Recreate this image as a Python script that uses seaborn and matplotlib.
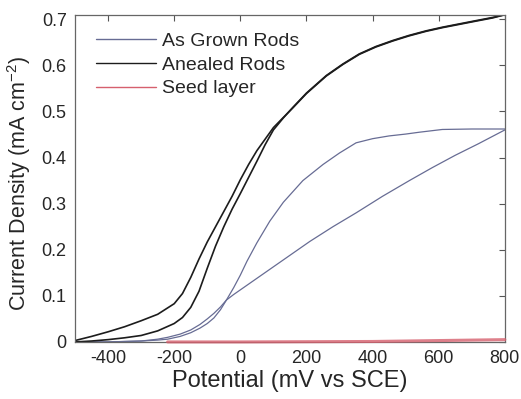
import matplotlib
matplotlib.use("Agg")
import matplotlib.pyplot as plt
import seaborn as sns

# Annealed rods: forward scan (lower-right branch) and reverse scan (upper-left branch)
annealed_fwd_x = [-500, -450, -400, -350, -300, -250, -200, -175, -150, -125, -100, -75,
                  -50, -25, 0, 25, 50, 75, 100, 130, 159, 200, 260, 310, 360, 410, 461,
                  510, 562, 612, 662, 712, 763, 800]
annealed_fwd_y = [0.0, 0.002, 0.005, 0.009, 0.014, 0.024, 0.040, 0.053, 0.075, 0.11,
                  0.16, 0.208, 0.25, 0.288, 0.322, 0.357, 0.392, 0.428, 0.46, 0.486,
                  0.509, 0.54, 0.578, 0.603, 0.625, 0.641, 0.654, 0.665, 0.675, 0.683,
                  0.69, 0.697, 0.704, 0.71]
annealed_rev_x = [800, 763, 712, 662, 612, 562, 510, 461, 410, 360, 310, 260, 200, 159,
                  130, 100, 75, 50, 25, 0, -25, -50, -75, -100, -125, -150, -175, -200,
                  -250, -300, -350, -400, -450, -500]
annealed_rev_y = [0.71, 0.703, 0.696, 0.689, 0.682, 0.674, 0.664, 0.653, 0.64, 0.624,
                  0.602, 0.577, 0.539, 0.508, 0.487, 0.465, 0.44, 0.415, 0.385, 0.352,
                  0.316, 0.283, 0.25, 0.217, 0.18, 0.14, 0.105, 0.083, 0.06, 0.046,
                  0.033, 0.022, 0.012, 0.003]

# As grown rods: near-linear branch and steep branch with plateau
grown_fwd_x = [-500, -400, -300, -250, -220, -182, -150, -122, -100, -80, -60, -42, -20,
               0, 68, 140, 210, 280, 350, 430, 511, 580, 650, 720, 800]
grown_fwd_y = [0.0, 0.0, 0.002, 0.006, 0.01, 0.017, 0.026, 0.038, 0.05, 0.062, 0.076,
               0.091, 0.103, 0.113, 0.147, 0.183, 0.218, 0.25, 0.28, 0.316, 0.35, 0.378,
               0.405, 0.43, 0.46]
grown_rev_x = [800, 700, 611, 541, 500, 450, 400, 350, 300, 250, 189, 130, 89, 50, 20, 0,
               -20, -42, -60, -80, -100, -122, -150, -182, -220, -250, -300, -400, -500]
grown_rev_y = [0.462, 0.462, 0.461, 0.455, 0.451, 0.447, 0.441, 0.432, 0.41, 0.385, 0.35,
               0.303, 0.262, 0.215, 0.175, 0.145, 0.118, 0.091, 0.07, 0.052, 0.04, 0.03,
               0.02, 0.012, 0.006, 0.004, 0.002, 0.0, 0.0]

# Seed layer
seed_x = [-220, 0, 200, 400, 500, 600, 700, 800]
seed_y = [0.0, 0.0, 0.0005, 0.001, 0.002, 0.003, 0.004, 0.005]

x_ticks = [-400, -200, 0, 200, 400, 600, 800]
y_ticks = [0, 0.1, 0.2, 0.3, 0.4, 0.5, 0.6, 0.7]
y_tick_labels = ["0", "0.1", "0.2", "0.3", "0.4", "0.5", "0.6", "0.7"]

sns.set_style("white")
plt.rcParams["font.family"] = ["Liberation Sans", "DejaVu Sans"]
plt.rcParams["mathtext.fontset"] = "custom"
plt.rcParams["mathtext.rm"] = "Liberation Sans"
plt.rcParams["axes.unicode_minus"] = False

blue = "#676c94"
black = "#1c1c1c"
red = "#d6606e"

fig = plt.figure(figsize=(5.21, 3.99), dpi=100)
ax = fig.add_axes([0.144, 0.143, 0.825, 0.819])

sns.lineplot(x=grown_fwd_x, y=grown_fwd_y, sort=False, color=blue, lw=0.9,
             label="As Grown Rods", ax=ax)
sns.lineplot(x=grown_rev_x, y=grown_rev_y, sort=False, color=blue, lw=0.9,
             label="_nolegend_", ax=ax)
sns.lineplot(x=annealed_fwd_x, y=annealed_fwd_y, sort=False, color=black, lw=1.2,
             label="Anealed Rods", ax=ax)
sns.lineplot(x=annealed_rev_x, y=annealed_rev_y, sort=False, color=black, lw=1.2,
             label="_nolegend_", ax=ax)
sns.lineplot(x=seed_x, y=seed_y, sort=False, color=red, lw=2.2, alpha=0.8,
             label="Seed layer", ax=ax, clip_on=False, zorder=5)

ax.set_xlim(-500, 800)
ax.set_ylim(0, 0.709)
ax.set_xticks(x_ticks)
ax.set_yticks(y_ticks)
ax.set_yticklabels(y_tick_labels)
ax.tick_params(direction="in", length=4, width=0.8, color="#555555",
               top=True, right=True, labelsize=13, pad=6)
for s in ax.spines.values():
    s.set_color("#666666")
    s.set_linewidth(0.9)

ax.set_xlabel("Potential (mV vs SCE)", fontsize=17, labelpad=2)
ax.set_ylabel(r"Current Density (mA cm$^{\mathregular{-2}}$)", fontsize=15.5)
ax.yaxis.set_label_coords(-0.098, 0.485)

leg = ax.legend(loc="upper left", bbox_to_anchor=(0.03, 0.972), frameon=False,
                fontsize=14, handlelength=3.1, handletextpad=0.3, labelspacing=0.32,
                borderaxespad=0)
for line in leg.get_lines():
    line.set_linewidth(1.0)
    line.set_alpha(1.0)

fig.savefig("out.png", dpi=100)
